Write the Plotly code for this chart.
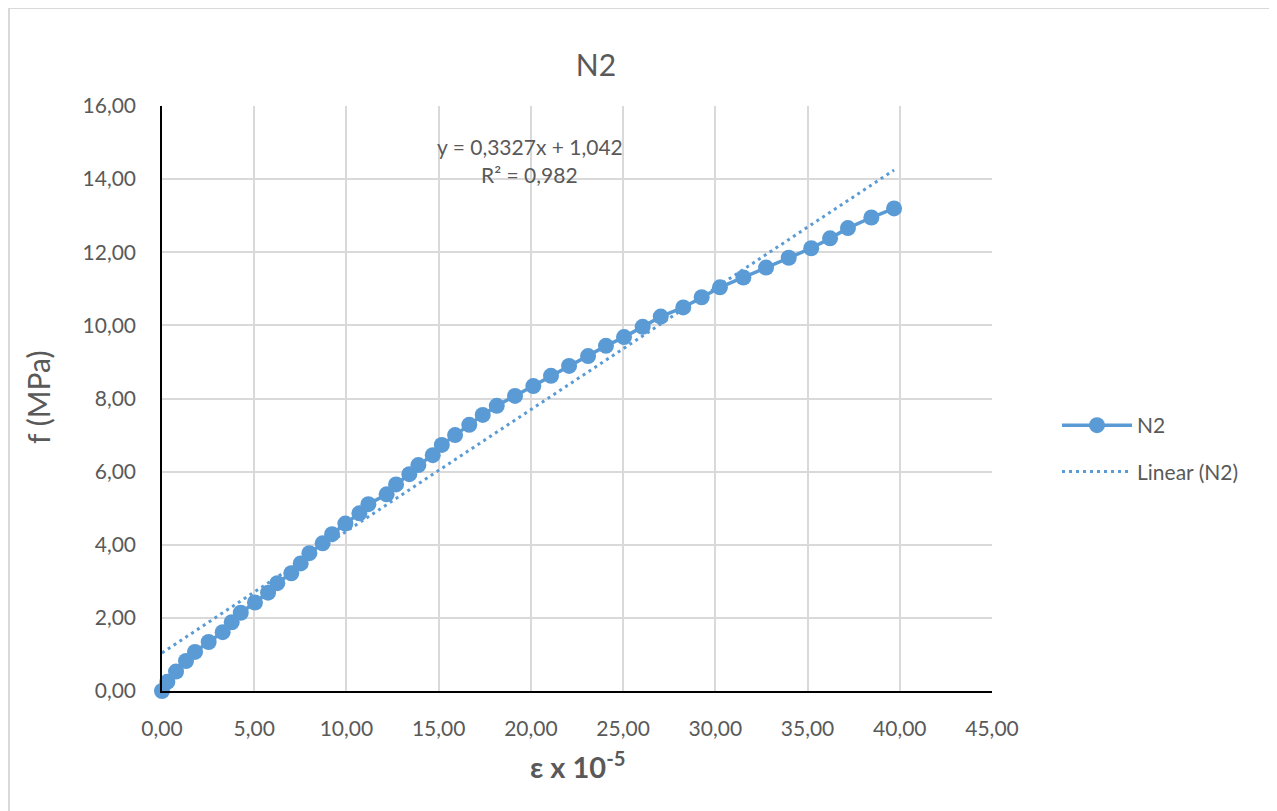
import plotly.graph_objects as go

strain = [0.00, 0.29, 0.76, 1.30, 1.79, 2.53, 3.29, 3.78, 4.27, 5.04, 5.75, 6.25, 7.01, 7.52,
          7.99, 8.71, 9.22, 9.94, 10.70, 11.19, 12.18, 12.69, 13.41, 13.90, 14.68, 15.17, 15.89,
          16.66, 17.39, 18.15, 19.14, 20.13, 21.09, 22.07, 23.10, 24.07, 25.05, 26.06, 27.04,
          28.26, 29.26, 30.25, 31.52, 32.75, 33.98, 35.20, 36.22, 37.19, 38.46, 39.69]
stress = [0.00, 0.25, 0.53, 0.82, 1.07, 1.34, 1.61, 1.88, 2.14, 2.42, 2.69, 2.95, 3.22, 3.49,
          3.77, 4.04, 4.29, 4.58, 4.86, 5.11, 5.38, 5.65, 5.93, 6.18, 6.45, 6.73, 7.00,
          7.28, 7.55, 7.80, 8.07, 8.34, 8.62, 8.89, 9.16, 9.44, 9.68, 9.96, 10.24,
          10.49, 10.77, 11.04, 11.31, 11.58, 11.85, 12.11, 12.38, 12.66, 12.95, 13.20]
slope = 0.3327
intercept = 1.042
r2 = 0.982
x_ticks = [0, 5, 10, 15, 20, 25, 30, 35, 40, 45]
y_ticks = [0, 2, 4, 6, 8, 10, 12, 14, 16]

BLUE = "#5B9BD5"
GREY = "#595959"
FONT = "Lato"

trend_x = [min(strain), max(strain)]
trend_y = [slope * v + intercept for v in trend_x]

fig = go.Figure()
fig.add_trace(go.Scatter(x=strain, y=stress, mode="lines+markers", name="N2",
                         line=dict(color=BLUE, width=3.5),
                         marker=dict(color=BLUE, size=16),
                         cliponaxis=False, legendgroup="a"))
fig.add_trace(go.Scatter(x=trend_x, y=trend_y, mode="lines", name="Linear (N2)",
                         line=dict(color=BLUE, width=3, dash="3px,4px"),
                         cliponaxis=False, legendgroup="b"))

# page offset (browser body margin)
OFF = 8
W, H = 1277 - OFF, 811 - OFF
L, R, T, B = 162 - OFF, 992 - OFF, 106 - OFF, 691 - OFF
pw, ph = R - L, B - T

def px(xp):
    return (xp - OFF - L) / pw

def py(yp):
    return (B - (yp - OFF)) / ph

fig.update_layout(
    width=W, height=H, autosize=False,
    margin=dict(l=L, r=W - R, t=T, b=H - B, pad=0),
    paper_bgcolor="white", plot_bgcolor="white",
    separators=",.",
    font=dict(family=FONT, color=GREY, size=21),
    title=dict(text="N2", x=px(596), y=1 - (65 - OFF) / H, xref="paper", yref="container",
               xanchor="center", yanchor="middle",
               font=dict(family=FONT, size=30, color=GREY)),
    showlegend=True,
    legend=dict(x=px(1057), y=py(405), xanchor="left", yanchor="top",
                font=dict(family=FONT, size=21, color=GREY),
                bgcolor="rgba(0,0,0,0)", traceorder="grouped", tracegroupgap=16,
                itemwidth=70),
    xaxis=dict(range=[0, 45], tickvals=x_ticks, tickformat=".2f",
               showgrid=True, gridcolor="#D9D9D9", gridwidth=1.5,
               showline=True, linecolor="black", linewidth=1.5,
               zeroline=False, ticks="", ticklabelstandoff=18,
               tickfont=dict(family=FONT, size=21, color=GREY), fixedrange=True),
    yaxis=dict(range=[0, 16], tickvals=y_ticks, tickformat=".2f",
               showgrid=True, gridcolor="#D9D9D9", gridwidth=1.5,
               showline=True, linecolor="black", linewidth=1.5,
               zeroline=False, ticks="", ticklabelstandoff=20,
               tickfont=dict(family=FONT, size=21, color=GREY), fixedrange=True),
)

fig.add_annotation(text=f"y = {str(slope).replace('.', ',')}x + {str(intercept).replace('.', ',')}",
                   x=px(529.5), y=py(146.5), xref="paper", yref="paper",
                   showarrow=False, xanchor="center", yanchor="middle",
                   font=dict(family=FONT, size=21, color=GREY))
fig.add_annotation(text=f"R² = {str(r2).replace('.', ',')}",
                   x=px(529.5), y=py(174), xref="paper", yref="paper",
                   showarrow=False, xanchor="center", yanchor="middle",
                   font=dict(family=FONT, size=21, color=GREY))
fig.add_annotation(text="f (MPa)", textangle=-90,
                   x=px(38), y=py(398), xref="paper", yref="paper",
                   showarrow=False, xanchor="center", yanchor="middle",
                   font=dict(family=FONT, size=30, color=GREY))
fig.add_annotation(text="<b>ε x 10<sup>-5</sup></b>",
                   x=px(577), y=py(765), xref="paper", yref="paper",
                   showarrow=False, xanchor="center", yanchor="middle",
                   font=dict(family=FONT, size=29, color=GREY))

# chart border (top and right edges; left edge lies outside the drawable page area)
fig.add_shape(type="line", xref="paper", yref="paper",
              x0=px(8.5), x1=px(1272), y0=py(8), y1=py(8),
              line=dict(color="#D9D9D9", width=2), layer="above")
fig.add_shape(type="line", xref="paper", yref="paper",
              x0=px(1272), x1=px(1272), y0=py(8), y1=py(811),
              line=dict(color="#D9D9D9", width=2), layer="above")
fig.add_shape(type="line", xref="paper", yref="paper",
              x0=px(9), x1=px(9), y0=py(8), y1=py(811),
              line=dict(color="#D9D9D9", width=2), layer="above")

fig.write_html("out.html")
